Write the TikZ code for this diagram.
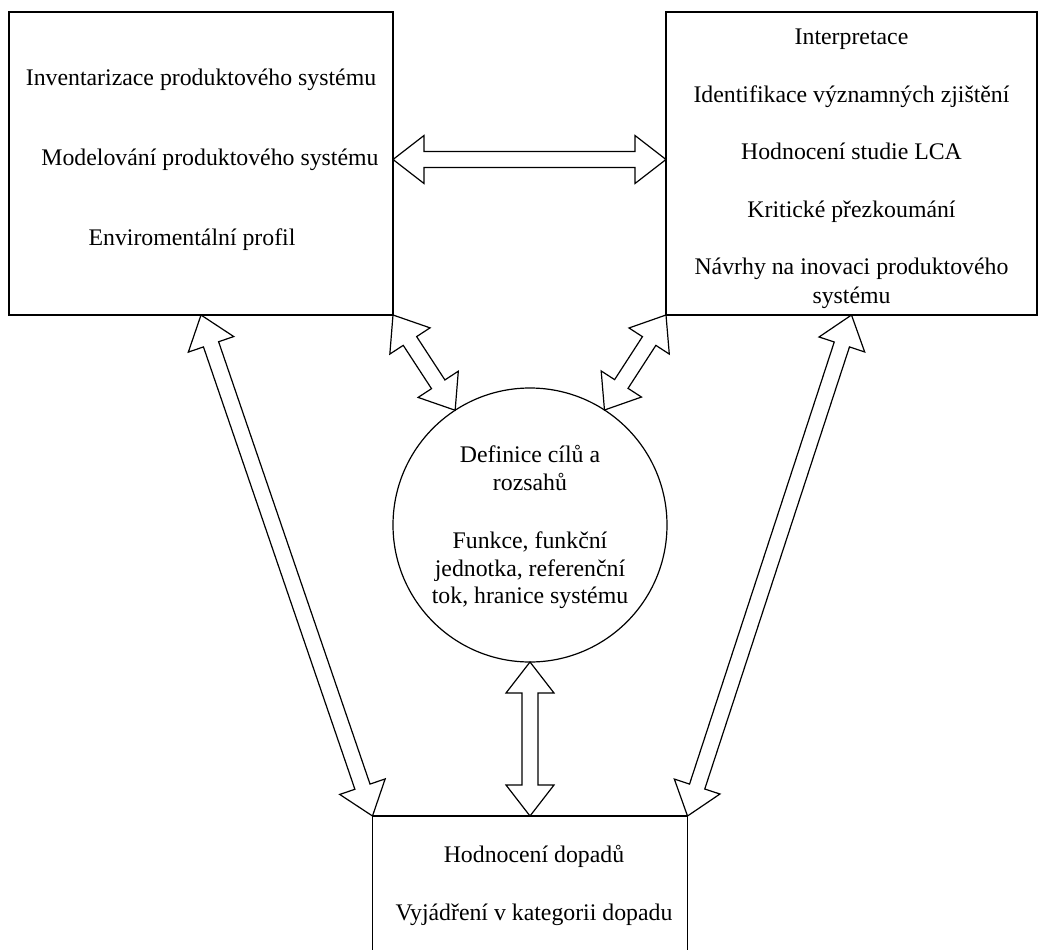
\documentclass[tikz,border=0pt]{standalone}
\usepackage{fontspec}
\setmainfont{Liberation Serif}
\usetikzlibrary{calc}

% dimensions of the hollow double-headed block arrows
\def\headlen{31pt}
\def\headhalf{24pt}
\def\shafthalf{8pt}

% hollow double-headed block arrow between two points
\newcommand\hollowarrow[2]{%
  \draw[blockarrow]
    (#1)
    -- ($(#1)!\headlen!(#2)!\headhalf!90:(#2)$)
    -- ($(#1)!\headlen!(#2)!\shafthalf!90:(#2)$)
    -- ($(#2)!\headlen!(#1)!\shafthalf!-90:(#1)$)
    -- ($(#2)!\headlen!(#1)!\headhalf!-90:(#1)$)
    -- (#2)
    -- ($(#2)!\headlen!(#1)!\headhalf!90:(#1)$)
    -- ($(#2)!\headlen!(#1)!\shafthalf!90:(#1)$)
    -- ($(#1)!\headlen!(#2)!\shafthalf!-90:(#2)$)
    -- ($(#1)!\headlen!(#2)!\headhalf!-90:(#2)$)
    -- cycle;%
}

\tikzset{
  box/.style={draw=black, line width=1.2pt, rectangle, inner sep=0pt, outer sep=0pt},
  roundbox/.style={draw=black, line width=1.2pt, circle, inner sep=0pt, outer sep=0pt},
  txt/.style={align=center, inner sep=0pt, text=black},
  blockarrow/.style={draw=black, line width=1.2pt, line join=miter},
}

\begin{document}
\begin{tikzpicture}[x=1pt, y=-1pt]
  \useasboundingbox (0,0) rectangle (1039,950);

  % phase boxes
  \node[box, minimum width=384, minimum height=303] (inv) at (201,163.5) {};
  \node[box, minimum width=371, minimum height=303] (interp) at (851.5,163.5) {};
  \node[roundbox, minimum size=274] (goal) at (530,525) {};
  \node[box, minimum width=315, minimum height=140] (impact) at (530,886) {};

  % texts
  \node[txt, font=\fontsize{23.8}{29}\selectfont] (invtext) at (201,159.8)
    {Inventarizace produktového systému\\[51pt]%
     \hspace*{18pt}Modelování produktového systému\\[51pt]%
     Enviromentální profil\hspace*{18pt}};
  \node[txt, font=\fontsize{23.8}{29}\selectfont] (interptext) at (851.5,169)
    {Interpretace\\[28.5pt]%
     Identifikace významných zjištění\\[28.5pt]%
     Hodnocení studie LCA\\[28.5pt]%
     Kritické přezkoumání\\[28.5pt]%
     Návrhy na inovaci produktového\\systému};
  \node[txt, font=\fontsize{23.8}{27.5}\selectfont] (goaltext) at (530,527)
    {Definice cílů a\\rozsahů\\[31pt]%
     Funkce, funkční\\jednotka, referenční\\tok, hranice systému};
  \node[txt, font=\fontsize{23.8}{29}\selectfont] (impacttext) at (534,885.6)
    {Hodnocení dopadů\\[29pt]Vyjádření v kategorii dopadu};

  % connector end points
  \coordinate (h1) at ($(inv.east)+(0,-4)$);
  \coordinate (h2) at ($(interp.west)+(0,-4)$);
  \coordinate (g1) at ($(goal)!137pt!(inv.south east)$);
  \coordinate (g2) at ($(goal)!137pt!(interp.south west)$);

  % block arrows
  \hollowarrow{h1}{h2}
  \hollowarrow{inv.south east}{g1}
  \hollowarrow{interp.south west}{g2}
  \hollowarrow{inv.south}{impact.north west}
  \hollowarrow{interp.south}{impact.north east}
  \hollowarrow{goal.south}{impact.north}
\end{tikzpicture}
\end{document}
